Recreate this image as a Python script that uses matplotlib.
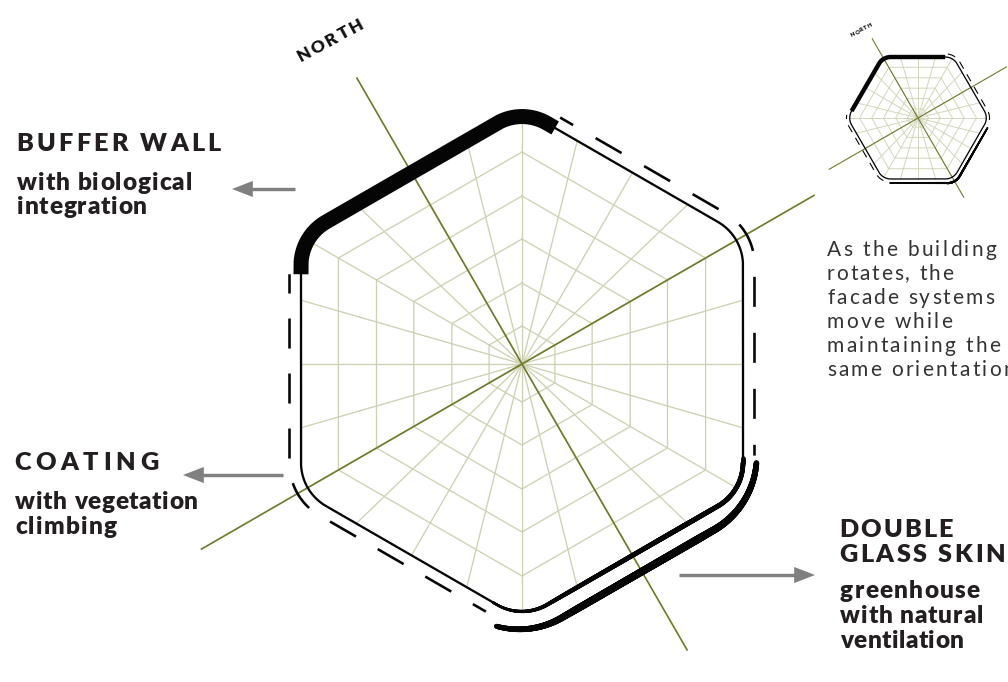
import numpy as np
import matplotlib
matplotlib.use("Agg")
import matplotlib.pyplot as plt
from matplotlib import font_manager as fm
from matplotlib.collections import LineCollection
from matplotlib.ft2font import LoadFlags
from matplotlib.text import Text
from matplotlib.transforms import Bbox, IdentityTransform

# ---- data -------------------------------------------------------------
ring_radii = [38, 81, 125, 168, 212]
spokes_per_edge = 4
axis_reach_a = [331, 331]      # NW / SE olive axis
axis_reach_b = [338, 371]      # NE / SW olive axis
inset_scale = 0.276

headings = [
    ("BUFFER WALL", 16, 151, 205), ("COATING", 14, 470, 144),
    ("DOUBLE", 839, 537, 114), ("GLASS SKIN", 839, 562, 166),
]
subtitles = [
    ("with biological", 17, 189.5, 175), ("integration", 17, 214, 130),
    ("with vegetation", 15, 509, 183), ("climbing", 15, 534, 102),
    ("greenhouse", 840, 598, 140), ("with natural", 840, 623, 143),
    ("ventilation", 840, 648, 124),
]
note_lines = [
    ("As the building", 256, 169), ("rotates, the", 280, 126),
    ("facade systems", 304, 167), ("move while", 328, 125),
    ("maintaining the", 352, 173), ("same orientation", 376, 188),
]
arrows = [((295, 189), (232, 189)), ((283, 475), (183, 475)), ((679, 575), (815, 575))]

GRID = "#cdd0b2"
OLIVE = "#6f7a2b"
INK = "#050505"
TEXT = "#231f20"
ARROW = "#808080"
FONT = "Lato"


class TrackedText(Text):
    """A single text whose letters are spaced to fill a given pixel width."""

    def __init__(self, x, y, s, target=None, **kw):
        super().__init__(x, y, s, **kw)
        self._target = target

    def _advances(self):
        fp = self.get_fontproperties()
        font = fm.get_font(fm.findfont(fp))
        font.set_size(fp.get_size_in_points(), self.get_figure().dpi)
        adv = []
        for ch in self.get_text():
            g = font.load_char(ord(ch), flags=LoadFlags.NO_HINTING)
            adv.append(g.linearHoriAdvance / 65536)
        n = len(adv)
        track = 0 if self._target is None else (self._target - sum(adv)) / max(n - 1, 1)
        return adv, track

    def draw(self, renderer):
        if not self.get_visible():
            return
        x0, y0 = self.get_transform().transform(self.get_unitless_position())
        a = np.radians(self.get_rotation())
        adv, track = self._advances()
        pen = 0.0
        for ch, w in zip(self.get_text(), adv):
            if ch != " ":
                t = Text(x0 + pen * np.cos(a), y0 + pen * np.sin(a), ch,
                         fontproperties=self.get_fontproperties(), color=self.get_color(),
                         rotation=self.get_rotation(), rotation_mode="anchor",
                         ha="left", va="baseline", transform=IdentityTransform())
                t.set_figure(self.get_figure())
                t.draw(renderer)
            pen += w + track

    def get_window_extent(self, renderer=None, dpi=None):
        x0, y0 = self.get_transform().transform(self.get_unitless_position())
        adv, track = self._advances()
        w = sum(adv) + track * (len(adv) - 1)
        h = self.get_fontproperties().get_size_in_points() * self.get_figure().dpi / 72 * 0.75
        a = np.radians(self.get_rotation())
        c, s = np.cos(a), np.sin(a)
        px_ = np.array([0, w, w, 0])
        py_ = np.array([0, 0, h, h])
        X = x0 + px_ * c - py_ * s
        Y = y0 + px_ * s + py_ * c
        return Bbox([[X.min(), Y.min()], [X.max(), Y.max()]])


fig = plt.figure(figsize=(10.08, 6.82), dpi=100)
ax = fig.add_axes([0, 0, 1, 1])
ax.set_xlim(0, 1008)
ax.set_ylim(682, 0)
ax.axis("off")

px = 0.72  # one pixel, in points


def label(s, x, y, size, width, weight="bold", color=TEXT, rotation=0):
    fp = fm.FontProperties(family=FONT, weight=weight, size=size)
    ax.add_artist(TrackedText(x, y, s, target=width, fontproperties=fp, color=color,
                              rotation=rotation, transform=ax.transData))


class Hex:
    def __init__(self, cx, cy, scale=1.0, rot=0.0):
        self.cx, self.cy, self.s, self.rot = cx, cy, scale, rot

    def xy(self, phi, r):
        phi = np.radians(phi)
        return self.cx + r * self.s * np.cos(phi), self.cy - r * self.s * np.sin(phi)

    def verts(self):
        return np.arange(6) * 60 + 90 + self.rot

    def rounded(self, phi, apothem, fillet):
        """Radius of the rounded hexagon at polar angles phi (degrees)."""
        sharp = apothem / np.cos(np.radians(30))
        d = sharp - fillet / np.sin(np.radians(60))
        rel = (np.asarray(phi, dtype=float) - self.verts()[0]) % 60
        edge = apothem / np.cos(np.radians(rel - 30))
        dist = np.radians(np.minimum(rel, 60 - rel))
        arc = d * np.cos(dist) + np.sqrt(np.maximum(fillet ** 2 - (d * np.sin(dist)) ** 2, 0))
        t_len = fillet * np.tan(np.radians(30))
        half = np.arctan2(t_len * np.cos(np.radians(30)),
                          sharp - t_len * np.sin(np.radians(30)))
        return np.where(dist < half, arc, edge)

    def section(self, start, end, apothem, fillet, n=1500):
        phi = np.linspace(start, end, n)
        return self.xy(phi, self.rounded(phi, apothem, fillet))


def grid(h, lw, color, apothem=221, fillet=50):
    v = h.verts()
    sharp = apothem / np.cos(np.radians(30))
    for r in ring_radii:
        xs, ys = h.xy(np.r_[v, v[0]], r)
        ax.plot(xs, ys, color=color, lw=lw, solid_joinstyle="miter", zorder=1)
    for th in v:
        a = np.array([np.cos(np.radians(th)), np.sin(np.radians(th))]) * sharp
        b = np.array([np.cos(np.radians(th + 60)), np.sin(np.radians(th + 60))]) * sharp
        for k in range(spokes_per_edge):
            p = a + (b - a) * k / spokes_per_edge
            phi = np.degrees(np.arctan2(p[1], p[0]))
            r = np.hypot(*p) if k else float(h.rounded([phi], apothem, fillet)[0])
            xs, ys = h.xy(np.array([phi, phi]), np.array([0, r]))
            ax.plot(xs, ys, color=color, lw=lw, zorder=1)


def olive(h, reach_a, reach_b, lw):
    for phi, r in [(120, reach_a[0]), (-60, reach_a[1]), (30, reach_b[0]), (210, reach_b[1])]:
        xs, ys = h.xy(np.array([phi, phi]), np.array([0, r]) / h.s)
        ax.plot(xs, ys, color=OLIVE, lw=lw, solid_capstyle="butt", zorder=2)


def stroke(h, start, end, apothem, fillet, lw, dash=None, cap="butt"):
    xs, ys = h.section(start, end, apothem, fillet)
    if dash is None:
        ax.plot(xs, ys, color=INK, lw=lw * px, solid_capstyle=cap, zorder=3)
    else:
        offset, on, off = dash
        ax.plot(xs, ys, color=INK, lw=lw * px, dash_capstyle="butt", zorder=3,
                linestyle=(offset / lw, (on / lw, off / lw)))


def tapered(h, start, end, apothem, fillet, fracs, widths):
    xs, ys = h.section(start, end, apothem, fillet, n=700)
    pts = np.column_stack([xs, ys])
    segs = np.stack([pts[:-1], pts[1:]], axis=1)
    w = np.interp(np.linspace(0, 1, len(segs)), fracs, widths)
    ax.add_collection(LineCollection(segs, linewidths=w * px, colors=INK, capstyle="round", zorder=3))


# ---- main plan ----
main = Hex(522, 364)
grid(main, 1.3 * px, GRID)
olive(main, axis_reach_a, axis_reach_b, 1.7 * px)
stroke(main, 0, 360, 221, 50, 2.3)
tapered(main, -23, -97, 221, 50, [0, .3, .75, 1], [4.6, 5, 4.4, 2.6])
tapered(Hex(519, 368), -21.8, -95, 237.7, 85, [0, .3, .75, 1], [5.6, 7.8, 7.2, 5])
stroke(main, 157.9, 82, 221, 50, 15)
stroke(main, 81.2, -21.5, 232.5, 60, 2.6, dash=(15, 30, 26))
stroke(main, 261.7, 158.9, 232.5, 60, 2.6, dash=(15, 30, 25))

# ---- inset, same building turned by 30 degrees ----
inset = Hex(918, 118, inset_scale, rot=30)
grid(inset, 0.95 * px, "#d2d5ba")
olive(inset, [92, 92], [102.6, 103], 1.1 * px)
stroke(inset, 0, 360, 221, 50, 1.3)
stroke(inset, 174, 66, 221, 50, 4.4)
stroke(inset, 65, -5, 232.5, 60, 1.1, dash=(0, 8, 6.5))
stroke(inset, 241, 177.5, 232.5, 60, 1.1, dash=(0, 8, 6.5))
tapered(inset, -8, -113, 236, 52, [0, .5, 1], [1.6, 2.2, 1.8])

# ---- arrows: a shaft and a separate crisp head ----
for tail, tip in arrows:
    sign = np.sign(tip[0] - tail[0])
    ax.plot([tail[0], tip[0] - sign * 15], [tail[1], tip[1]], color=ARROW, lw=3.4 * px,
            solid_capstyle="butt", zorder=4)
    ax.annotate("", xy=tip, xytext=(tip[0] - sign * 30, tip[1]), zorder=4,
                arrowprops=dict(arrowstyle="-|>,head_length=15,head_width=5.8", mutation_scale=1,
                                lw=0, color=ARROW, shrinkA=0, shrinkB=0))

# ---- text ----
for s, x, y, w in headings:
    label(s, x, y, 18.2, w, weight="heavy")
for s, x, y, w in subtitles:
    label(s, x, y, 17.6, w, weight="heavy")
for s, y, w in note_lines:
    label(s, 827, y, 15, w, weight="normal", color="#333333")
label("NORTH", 300.5, 62.5, 12.5, 73, rotation=28.5, weight="heavy", color="#111111")
label("NORTH", 852, 37, 4.2, 23, rotation=28, weight="heavy", color="#111111")

fig.savefig("out.png", dpi=100)
